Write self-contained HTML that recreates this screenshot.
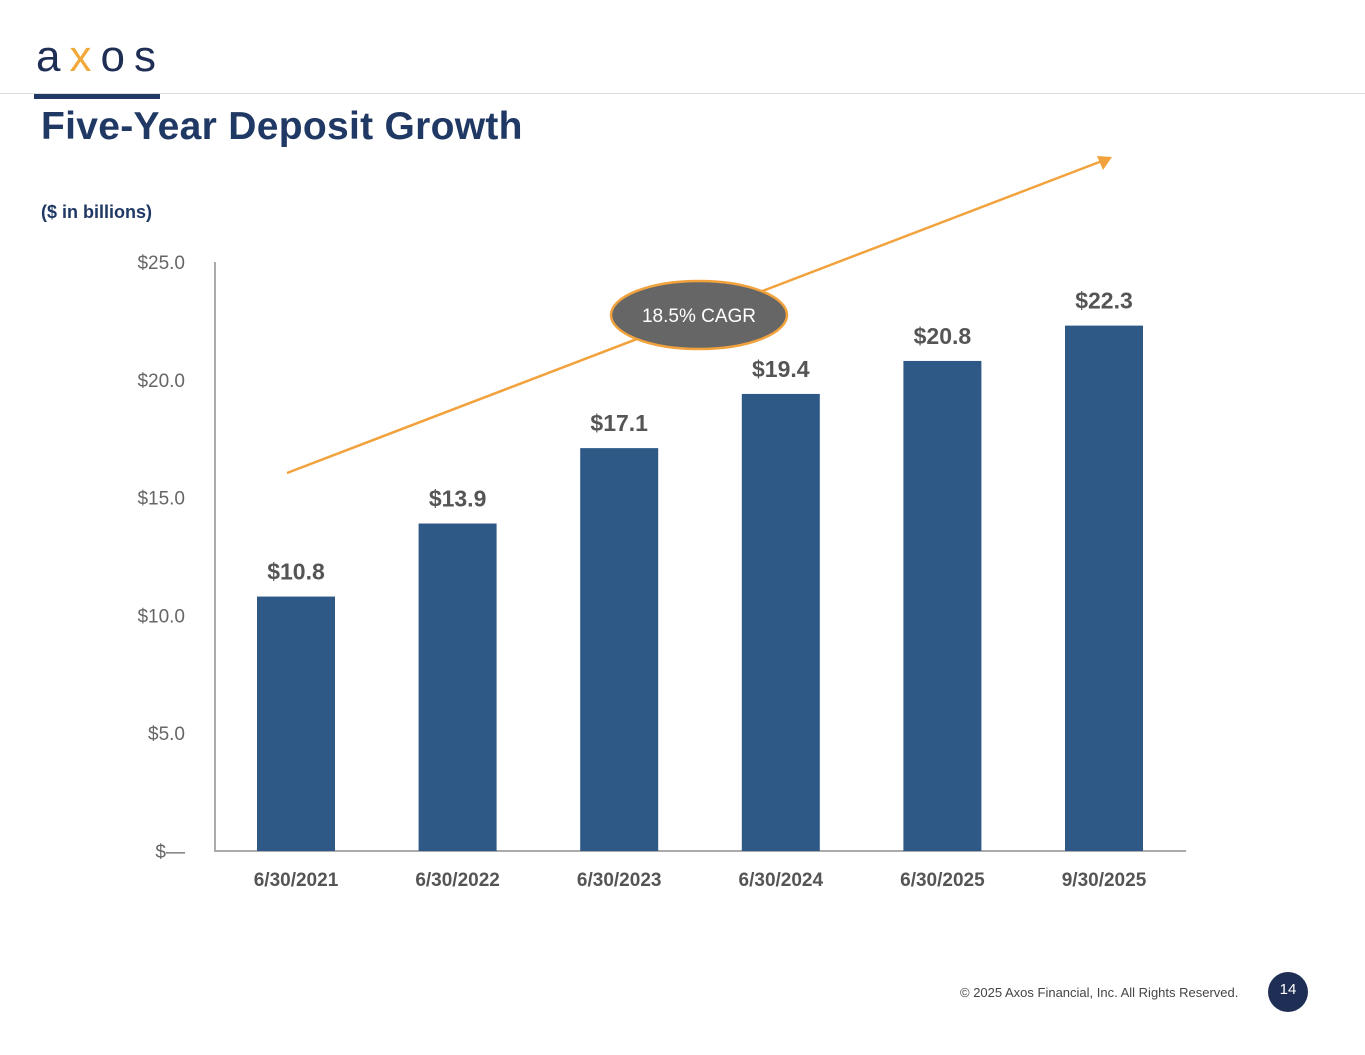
<!DOCTYPE html>
<html><head><meta charset="utf-8"><style>
body{margin:0;width:1365px;height:1055px;background:#fff;position:relative;overflow:hidden;font-family:"Liberation Sans",sans-serif}
.abs{position:absolute}
</style></head><body>
<div class="abs" style="left:36px;top:32px;font-size:44px;letter-spacing:9px;color:#1f2e55;font-weight:100;line-height:50px">a<span style="color:#f2a93b">x</span>os</div>
<div class="abs" style="left:0;top:93px;width:1365px;height:1px;background:#ddd"></div>
<div class="abs" style="left:34px;top:94px;width:126px;height:5px;background:#1f3864"></div>
<div class="abs" style="left:41px;top:105px;font-size:39px;font-weight:bold;color:#1f3864;letter-spacing:0.3px">Five-Year Deposit Growth</div>
<div class="abs" style="left:41px;top:202px;font-size:18px;font-weight:bold;color:#1f3864">($ in billions)</div>
<svg class="abs" style="left:0;top:0" width="1365" height="1055" id="chart"></svg>
<div class="abs" style="left:960px;top:985px;font-size:13px;color:#444">© 2025 Axos Financial, Inc. All Rights Reserved.</div>
<div class="abs" style="left:1268px;top:972px;width:40px;height:40px;border-radius:50%;background:#1f2e55;color:#fff;font-size:15px;text-align:center;line-height:36px">14</div>
<script>
const categories=["6/30/2021","6/30/2022","6/30/2023","6/30/2024","6/30/2025","9/30/2025"];
const values=[10.8,13.9,17.1,19.4,20.8,22.3];
const valueLabels=["$10.8","$13.9","$17.1","$19.4","$20.8","$22.3"];
const ticks=[0,5,10,15,20,25];
const tickLabels=["$—","$5.0","$10.0","$15.0","$20.0","$25.0"];
const NS="http://www.w3.org/2000/svg";
const svg=document.getElementById('chart');
const y0=851,pxPer=589/25,xStart=215,step=161.6,bw=78;
const y=v=>y0-v*pxPer;
const x=i=>xStart+81+i*step;
function mk(t,a,txt){const e=document.createElementNS(NS,t);for(const k in a)e.setAttribute(k,a[k]);if(txt!=null)e.textContent=txt;svg.appendChild(e);return e;}
let e=mk('line',{x1:215,y1:262,x2:215,y2:852,stroke:'#aaa','stroke-width':2});

e=mk('line',{x1:214,y1:851,x2:1186,y2:851,stroke:'#aaa','stroke-width':2});

ticks.forEach((t,i)=>{const l=mk('text',{x:185,y:y(t)+7,'text-anchor':'end','font-size':19,fill:'#666'},tickLabels[i]);
});
values.forEach((v,i)=>{
const r=mk('rect',{x:x(i)-bw/2,y:y(v),width:bw,height:y0-y(v),fill:'#2e5987'});

const t=mk('text',{x:x(i),y:y(v)-17,'text-anchor':'middle','font-size':23,'font-weight':'bold',fill:'#555'},valueLabels[i]);

const c=mk('text',{x:x(i),y:886,'text-anchor':'middle','font-size':19,'font-weight':'bold',fill:'#555'},categories[i]);
});
e=mk('line',{x1:287,y1:473,x2:1102,y2:161,stroke:'#f2a23c','stroke-width':2.5});

e=mk('polygon',{points:'1112,157 1097,156 1103,170',fill:'#f2a23c'});

e=mk('ellipse',{cx:699,cy:315,rx:88,ry:34,fill:'#666',stroke:'#f2a23c','stroke-width':2.5});

e=mk('text',{x:699,y:322,'text-anchor':'middle','font-size':19,fill:'#fff'},'18.5% CAGR');

</script>
</body></html>
